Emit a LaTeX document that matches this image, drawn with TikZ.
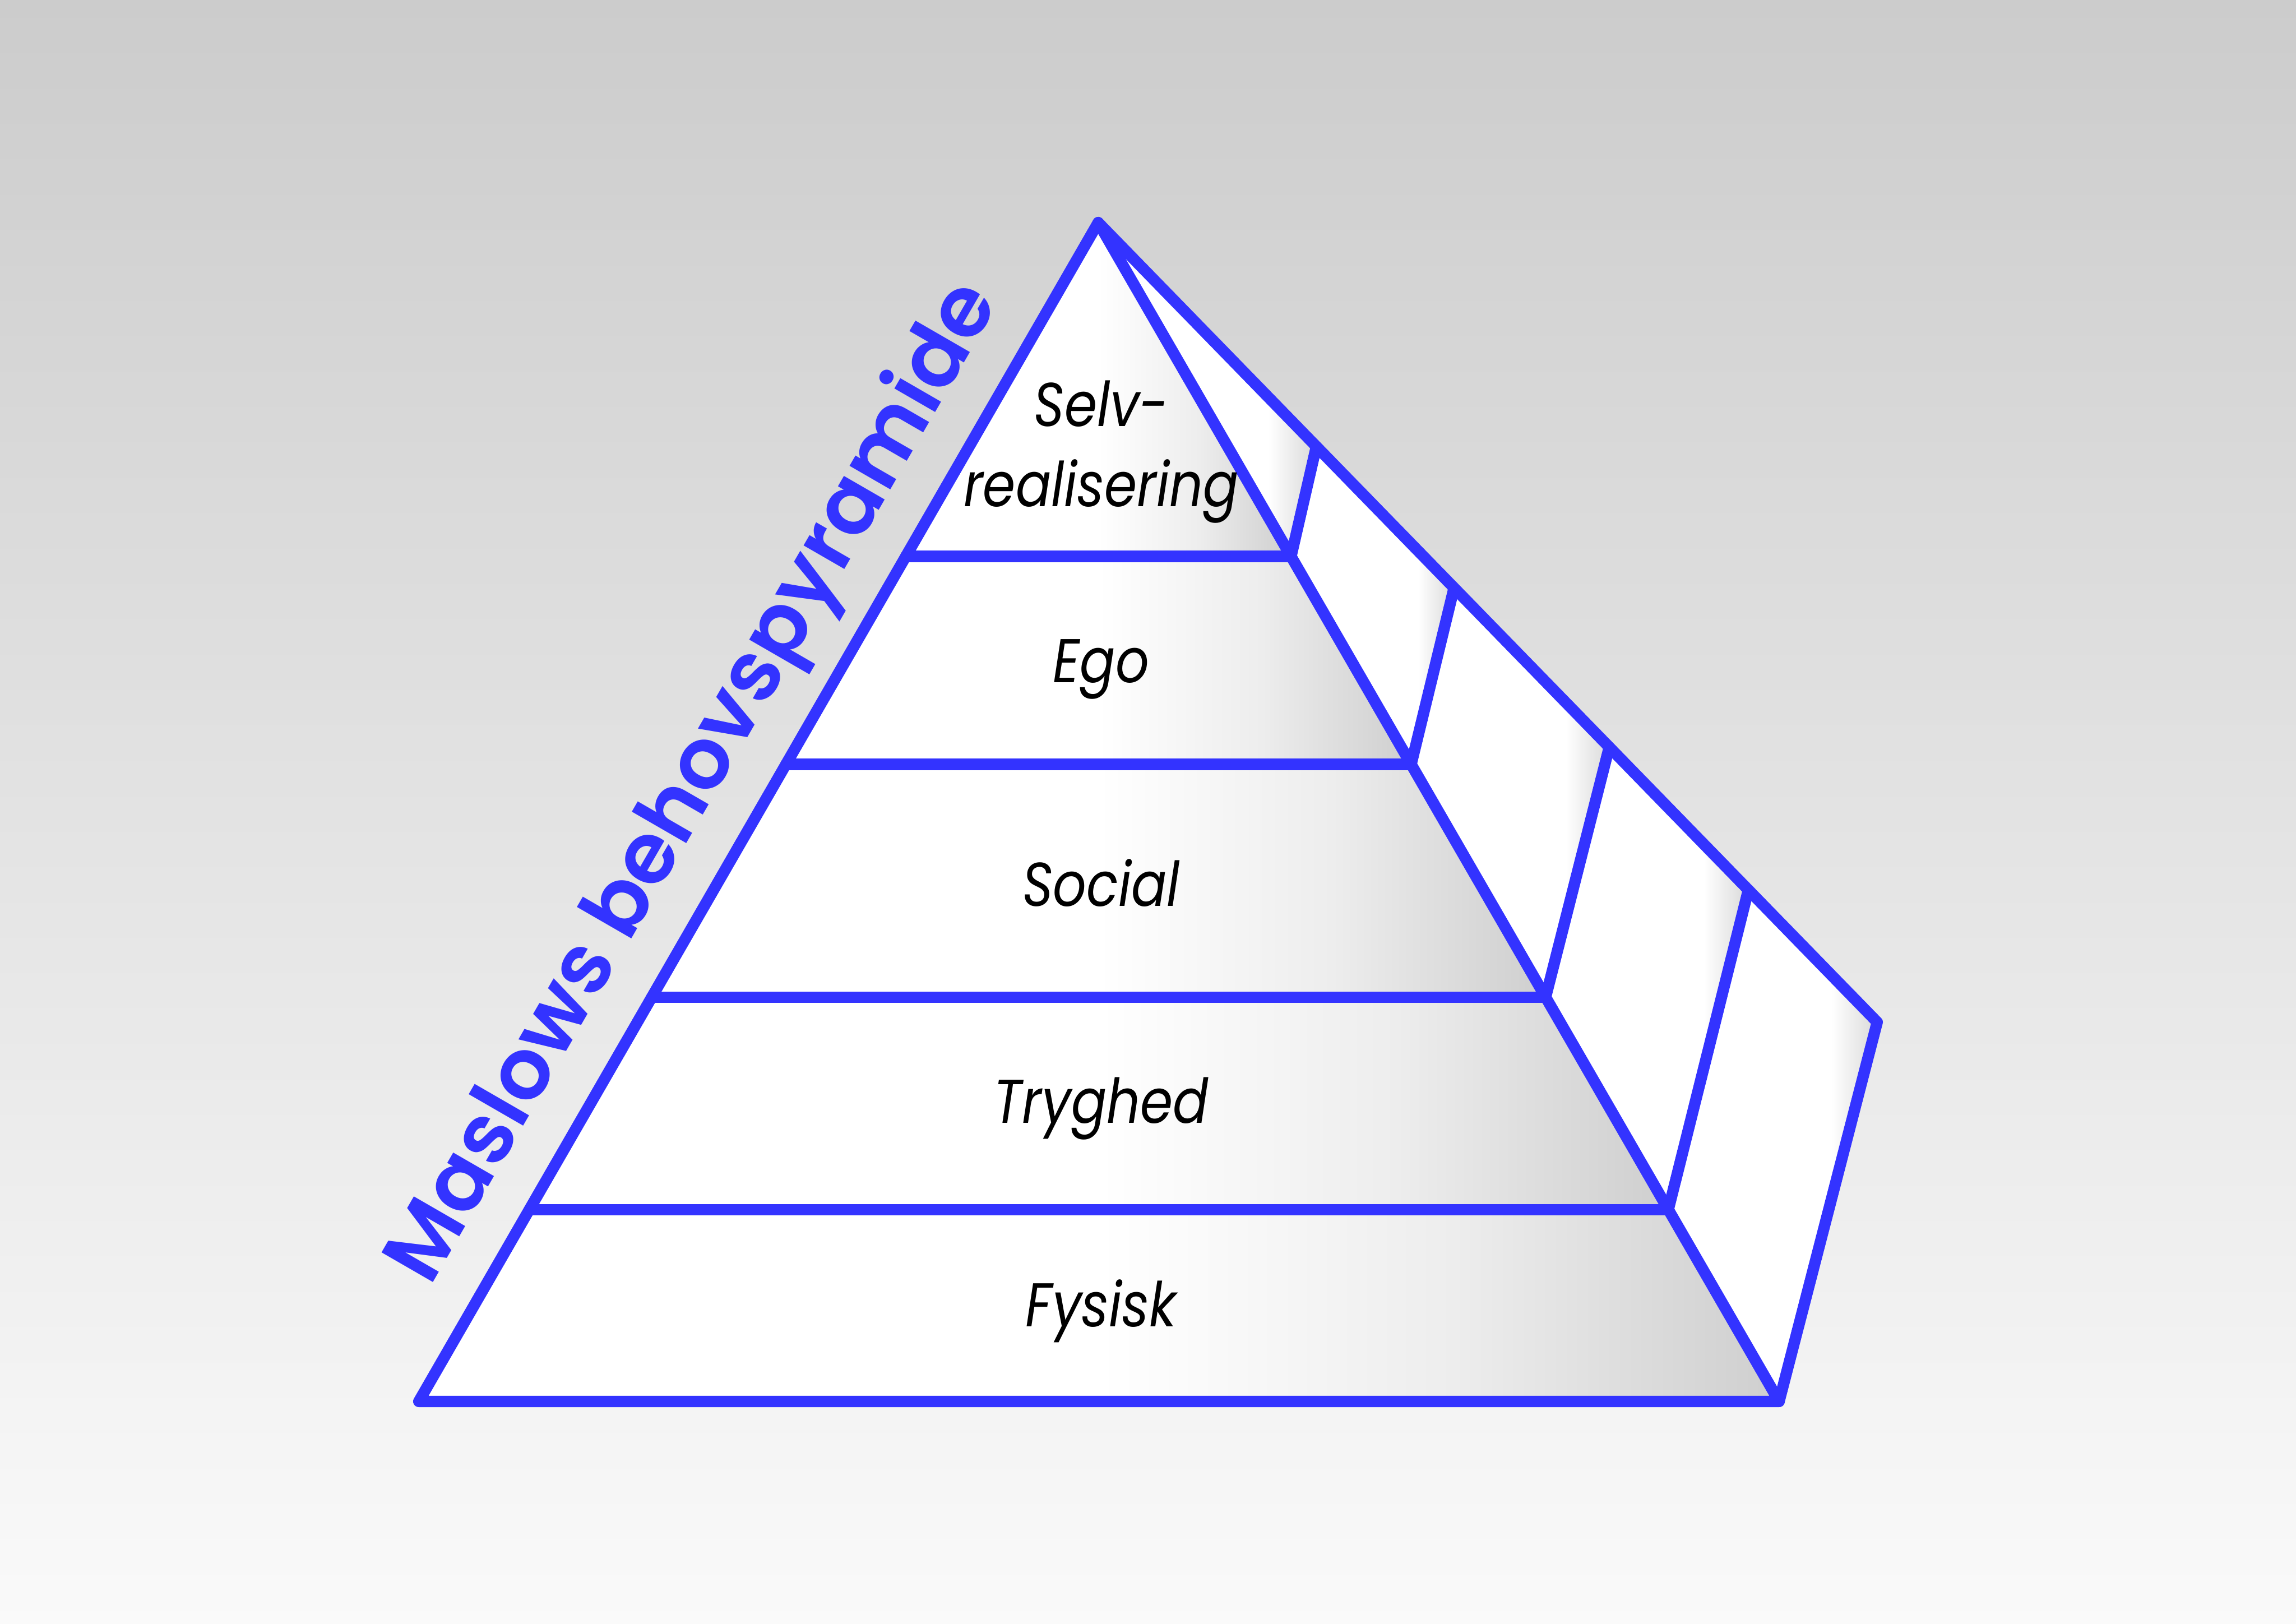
\documentclass[tikz,border=0pt]{standalone}
\usepackage{fontspec}
\usepackage{graphicx}
\setmainfont{Poppins}
\newfontfamily\ttlfont{Poppins SemiBold}
\usetikzlibrary{calc}
\definecolor{pblue}{RGB}{51,51,255}
\pgfdeclarehorizontalshading{faceshade}{100bp}{color(0bp)=(white); color(25bp)=(white); color(50bp)=(white); color(63bp)=(black!7); color(75bp)=(black!19); color(100bp)=(black!19)}
\pgfdeclarehorizontalshading{sideshade}{100bp}{color(0bp)=(white); color(25bp)=(white); color(64bp)=(white); color(75bp)=(black!15); color(100bp)=(black!15)}
\pgfdeclareverticalshading{bgshade}{100bp}{color(0bp)=(black!2); color(25bp)=(black!2); color(75bp)=(black!20); color(100bp)=(black!20)}
\newcommand\narrowtxt[1]{\scalebox{0.85}[1]{#1}}
\tikzset{
  edge/.style={draw=pblue, line width=2.2pt, line join=round, line cap=round},
  face/.style={shading=faceshade},
  side/.style={shading=sideshade},
  lbl/.style={anchor=base, font=\itshape\fontsize{12}{14}\selectfont, text=black, inner sep=0pt},
  ttl/.style={rotate=60, text=pblue, font=\ttlfont\fontsize{16.5}{20}\selectfont, inner sep=0pt}
}
\begin{document}
\begin{tikzpicture}[x=0.01cm, y=-0.01cm]
\useasboundingbox (0,0) rectangle (1568,1109);
\fill[shading=bgshade] (0,0) rectangle (1568,1109);
% key points
\coordinate (A) at (750,152);
\coordinate (BL) at (286,957);
\coordinate (BR) at (1215,957);
\coordinate (BK) at (1282,698);
\foreach \i/\t in {1/0.2832, 2/0.4596, 3/0.6571, 4/0.8373}{
  \coordinate (L\i) at ($(A)!\t!(BL)$);
  \coordinate (P\i) at ($(A)!\t!(BR)$);
}
\foreach \i/\t in {1/0.280, 2/0.4568, 3/0.656, 4/0.8346}{
  \coordinate (Q\i) at ($(A)!\t!(BK)$);
}
% front faces
\path[face] (A) -- (P1) -- (L1) -- cycle;
\path[face] (L1) -- (P1) -- (P2) -- (L2) -- cycle;
\path[face] (L2) -- (P2) -- (P3) -- (L3) -- cycle;
\path[face] (L3) -- (P3) -- (P4) -- (L4) -- cycle;
\path[face] (L4) -- (P4) -- (BR) -- (BL) -- cycle;
% side faces
\path[side] (A) -- (Q1) -- (P1) -- cycle;
\path[side] (P1) -- (Q1) -- (Q2) -- (P2) -- cycle;
\path[side] (P2) -- (Q2) -- (Q3) -- (P3) -- cycle;
\path[side] (P3) -- (Q3) -- (Q4) -- (P4) -- cycle;
\path[side] (P4) -- (Q4) -- (BK) -- (BR) -- cycle;
% outlines
\draw[edge] (A) -- (BL) -- (BR) -- cycle;
\draw[edge] (A) -- (BK) -- (BR);
\foreach \i in {1,2,3,4}{
  \draw[edge] (L\i) -- (P\i);
  \draw[edge] (P\i) -- (Q\i);
}
% labels
\node[lbl] (selv) at (752,291) {\narrowtxt{Selv-}};
\node[lbl] (real) at (752,346) {\narrowtxt{realisering}};
\node[lbl] (ego) at (752,466) {\narrowtxt{Ego}};
\node[lbl] (soc) at (752,619) {\narrowtxt{Social}};
\node[lbl] (tryg) at (752,767) {\narrowtxt{Tryghed}};
\node[lbl] (fys) at (752,906) {\narrowtxt{Fysisk}};
\node[ttl] (title) at (475,535) {Maslows behovspyramide};
\end{tikzpicture}
\end{document}
